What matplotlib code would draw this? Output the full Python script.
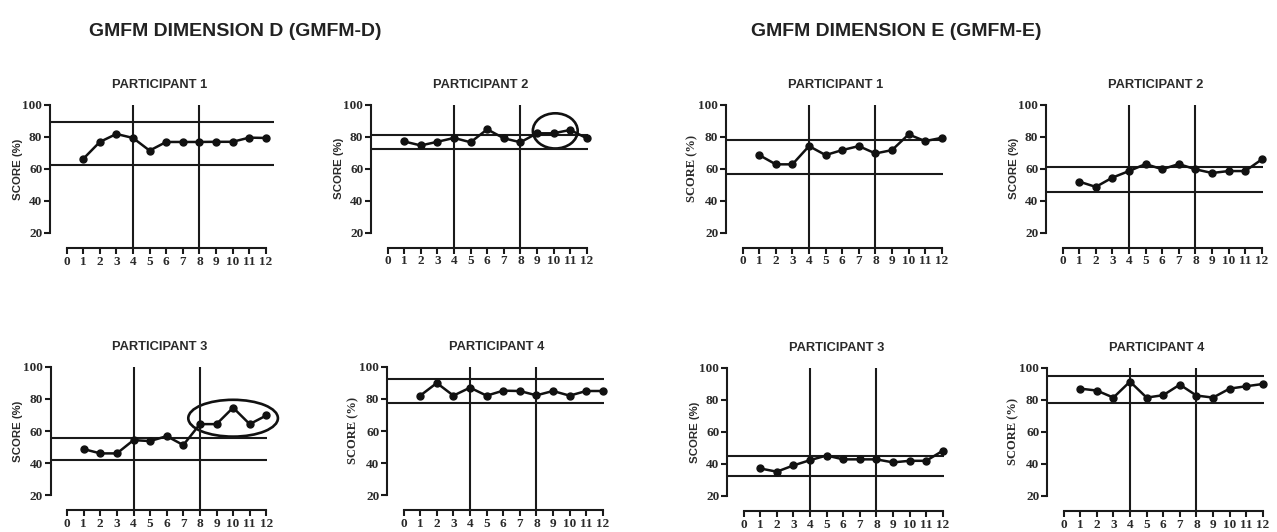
import matplotlib
matplotlib.use('Agg')
import matplotlib.pyplot as plt
from matplotlib.patches import Ellipse

W, H = 1277, 532
sessions = list(range(1, 13))
phase_lines = [4, 8]

# GMFM-D
d_p1 = [66.3, 76.9, 81.9, 79.4, 71.5, 76.9, 76.9, 76.9, 77.0, 77.0, 79.6, 79.4]
d_p2 = [76.9, 74.4, 76.7, 79.1, 76.4, 84.5, 78.9, 76.4, 82.0, 82.0, 84.1, 78.9]
d_p3 = [48.7, 46.0, 46.0, 54.3, 53.7, 56.8, 51.2, 64.3, 64.3, 74.6, 64.3, 69.7]
d_p4 = [82.1, 90.0, 82.1, 87.1, 82.1, 85.2, 85.0, 82.3, 85.0, 82.1, 85.0, 85.0]
d_bands = [(89.4, 62.8), (80.8, 72.5), (55.9, 41.6), (92.5, 77.8)]

# GMFM-E
e_p1 = [68.4, 62.6, 62.6, 74.0, 68.4, 71.5, 74.0, 69.4, 71.5, 81.3, 77.1, 79.2]
e_p2 = [51.8, 48.5, 54.3, 58.4, 62.8, 59.5, 62.8, 59.5, 57.2, 58.4, 58.4, 65.7]
e_p3 = [37.2, 35.2, 39.1, 42.4, 45.3, 42.9, 42.9, 42.9, 41.0, 42.0, 42.0, 48.3]
e_p4 = [87.1, 85.9, 81.5, 91.5, 81.5, 83.0, 89.6, 82.8, 81.5, 87.1, 88.6, 90.0]
e_bands = [(77.8, 56.4), (61.1, 45.1), (44.9, 32.7), (94.8, 78.4)]

titles = ['PARTICIPANT 1', 'PARTICIPANT 2', 'PARTICIPANT 3', 'PARTICIPANT 4']
ylabel = 'SCORE (%)'
yticks = [20, 40, 60, 80, 100]
xticks = list(range(0, 13))

SX, SY = 16.6, 1.6
XL, XR = -1.6, 12.8
YB, YT = 5, 102

panels = [
    # data, band, xs(px of x=-1), yt(px of y=100), label serif?, hline end, ellipse, title idx
    (d_p1, d_bands[0], 50, 105, False, 12.5, None, 0),
    (d_p2, d_bands[1], 371, 104.5, False, 12.1, (10.1, 83.5, 2.7, 22), 1),
    (d_p3, d_bands[2], 50.5, 367, False, 12.05, (10.0, 68.0, 5.4, 23), 2),
    (d_p4, d_bands[3], 387, 367, True, 12.1, None, 3),
    (e_p1, e_bands[0], 726, 104.5, True, 12.1, None, 0),
    (e_p2, e_bands[1], 1046, 104.5, False, 12.1, None, 1),
    (e_p3, e_bands[2], 727, 368, False, 12.1, None, 2),
    (e_p4, e_bands[3], 1047, 368, True, 12.1, None, 3),
]

fig = plt.figure(figsize=(W / 100, H / 100), dpi=100)
fig.patch.set_facecolor('white')

LC = '#1a1a1a'
TC = '#2a2a2a'

for vals, band, xs, yt, serif, hend, ell, ti in panels:
    left = xs + (XL + 1) * SX
    width = (XR - XL) * SX
    top = yt - (YT - 100) * SY
    height = (YT - YB) * SY
    ax = fig.add_axes([left / W, 1 - (top + height) / H, width / W, height / H])
    ax.set_xlim(XL, XR)
    ax.set_ylim(YB, YT)
    for s in ['top', 'right']:
        ax.spines[s].set_visible(False)
    ax.spines['left'].set_position(('data', -1))
    ax.spines['left'].set_bounds(20, 100)
    ax.spines['bottom'].set_position(('data', 10.6))
    ax.spines['bottom'].set_bounds(0, 12)
    for s in ['left', 'bottom']:
        ax.spines[s].set_linewidth(1.5)
        ax.spines[s].set_color(LC)
    ax.set_xticks(xticks)
    ax.set_yticks(yticks)
    ax.tick_params(axis='both', direction='out', length=4, width=1.5, color=LC, pad=1.5)
    for lab in ax.get_xticklabels() + ax.get_yticklabels():
        lab.set_fontfamily('Liberation Serif')
        lab.set_fontweight('bold')
        lab.set_fontsize(9.5)
        lab.set_color(TC)
    ax.patch.set_alpha(0)

    ax.vlines(phase_lines, 10.6, 100, color=LC, linewidth=1.5)
    ax.hlines(list(band), -1, hend, color=LC, linewidth=1.5)
    ax.plot(sessions, vals, color='#111111', linewidth=1.8, marker='o', markersize=5)
    if ell is not None:
        ax.add_patch(Ellipse((ell[0], ell[1]), ell[2], ell[3], fill=False,
                             edgecolor='#111111', linewidth=1.9))

    fam = 'Liberation Serif' if serif else 'Liberation Sans'
    fs = 9.0 if serif else 8.2
    ax.set_ylabel(ylabel, fontfamily=fam, fontweight='bold', fontsize=fs, color=TC)
    ax.yaxis.set_label_coords(0.0417 - 27.5 / width, (60 - YB) / (YT - YB))

    ax.text(5.6, 112.5, titles[ti], ha='center', va='center', fontfamily='Liberation Sans',
            fontweight='bold', fontsize=9.3, color=TC)

fig.text(235 / W, 1 - 31 / H, 'GMFM DIMENSION D (GMFM-D)', ha='center', va='center',
         fontfamily='Liberation Sans', fontweight='bold', fontsize=14, color='#222222')
fig.text(896 / W, 1 - 31 / H, 'GMFM DIMENSION E (GMFM-E)', ha='center', va='center',
         fontfamily='Liberation Sans', fontweight='bold', fontsize=14, color='#222222')

fig.savefig('out.png', dpi=100, facecolor='white')
